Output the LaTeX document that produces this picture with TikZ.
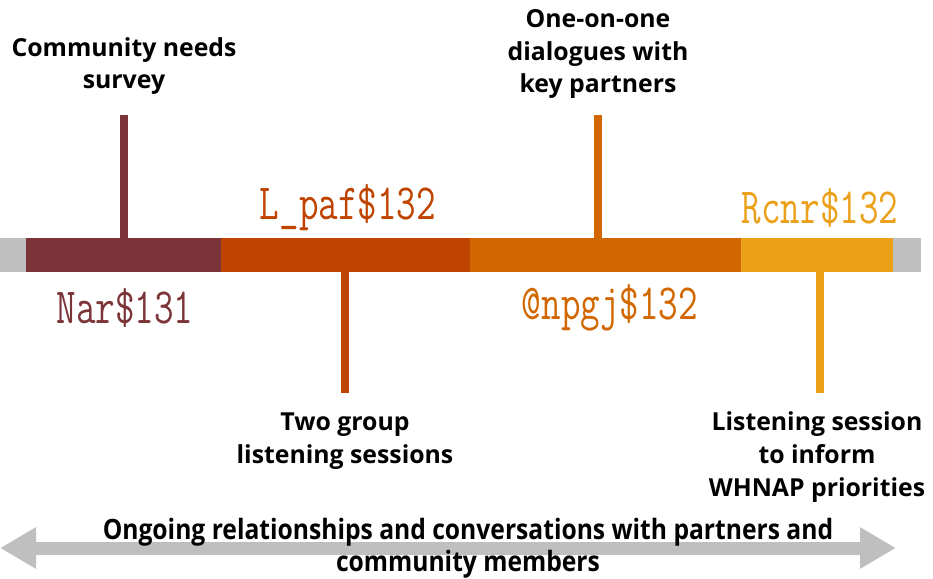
\documentclass[tikz,border=0pt]{standalone}
\usepackage{xcolor}
\usepackage{tikz}
\usepackage{fontspec}
\setmainfont{Open Sans}
\usetikzlibrary{arrows.meta,positioning}

\definecolor{barGray}{HTML}{BFBFBF}
\definecolor{barMaroon}{HTML}{7B3437}
\definecolor{barRust}{HTML}{BE4400}
\definecolor{barOrange}{HTML}{D26700}
\definecolor{barGold}{HTML}{EBA019}

\begin{document}
\begin{tikzpicture}[x=0.75pt, y=-0.75pt,
   seg/.style={rectangle, inner sep=0pt, outer sep=0pt, minimum height=25.5pt},
   event/.style={align=center, font=\fontsize{18.6}{24.5}\selectfont\bfseries},
   date/.style={font=\fontsize{38}{38}\selectfont\ttfamily, xscale=0.75},
   tick/.style={line width=6pt}]

   \useasboundingbox (0,0) rectangle (933,579);

   % Define the bar segments
   \node[seg, fill=barGray, minimum width=19.5pt, anchor=west] (gray_in) at (0,255) {};
   \node[seg, fill=barMaroon, minimum width=146.25pt, right=0pt of gray_in] (nov) {};
   \node[seg, fill=barRust, minimum width=186.75pt, right=0pt of nov] (jan) {};
   \node[seg, fill=barOrange, minimum width=203.25pt, right=0pt of jan] (apr) {};
   \node[seg, fill=barGold, minimum width=114pt, right=0pt of apr] (aug) {};
   \node[seg, fill=barGray, minimum width=21pt, right=0pt of aug] (gray_out) {};

   % Define the dates
   \node[date, text=barMaroon] (nov_date) at (125,308) {Nar\$131};
   \node[date, text=barRust] (jan_date) at (348,208) {L\_paf\$132};
   \node[date, text=barOrange] (apr_date) at (610,308) {@npgj\$132};
   \node[date, text=barGold] (aug_date) at (820,208) {Rcnr\$132};

   % Define the events
   \node[event] (survey) at (124,66) {Community needs\\survey};
   \node[event] (groups) at (345,441) {Two group\\listening sessions};
   \node[event] (dialogues) at (598,54) {One-on-one\\dialogues with\\key partners};
   \node[event] (session) at (817,457) {Listening session\\to inform\\WHNAP priorities};

   \coordinate (survey_end) at (124,115);
   \coordinate (groups_end) at (345,393);
   \coordinate (dialogues_end) at (598,115);
   \coordinate (session_end) at (820,393);

   % Define ticks
   \draw[tick, barMaroon] (survey_end |- nov.north) -- (survey_end);
   \draw[tick, barRust] (groups_end |- jan.south) -- (groups_end);
   \draw[tick, barOrange] (dialogues_end |- apr.north) -- (dialogues_end);
   \draw[tick, barGold] (session_end |- aug.south) -- (session_end);

   % Ongoing arrow
   \coordinate (ongoing_start) at (0,548);
   \coordinate (ongoing_end) at (896,548);
   \draw[barGray, line width=9.75pt, {Triangle[length=27pt, width=29.25pt]}-{Triangle[length=27pt, width=29.25pt]}]
      (ongoing_start) -- (ongoing_end);
   \node[align=center, font=\fontsize{21}{24}\selectfont\bfseries, xscale=0.88] (ongoing) at (468,548)
      {Ongoing relationships and conversations with partners and\\community members};

\end{tikzpicture}
\end{document}
